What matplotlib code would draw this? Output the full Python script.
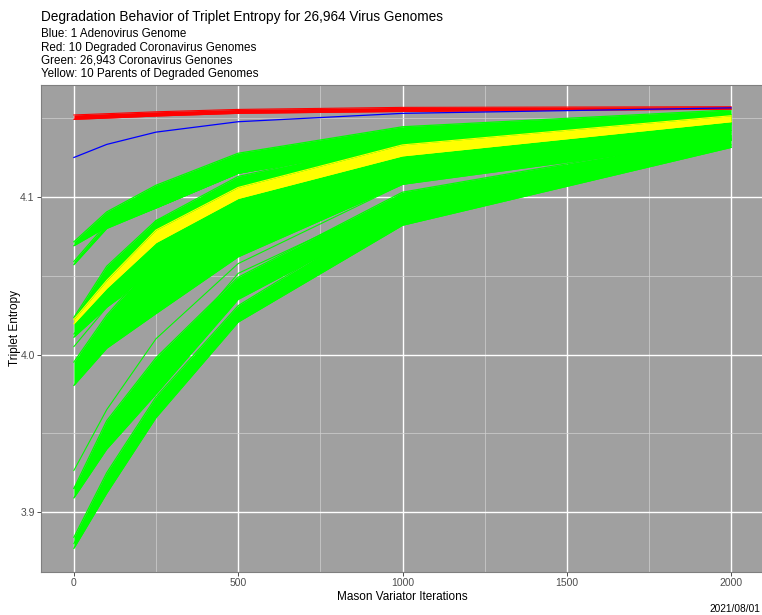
import numpy as np
import matplotlib
matplotlib.use("Agg")
import matplotlib.pyplot as plt
from matplotlib.ticker import MultipleLocator

# Mason Variator iteration counts (x positions of every series)
iters = [0, 100, 250, 500, 1000, 2000]

# blue: 1 adenovirus genome
blue = [4.1250, 4.1333, 4.1411, 4.1477, 4.1530, 4.1565]

# red: 10 degraded coronavirus genomes (band edges)
red_hi = [4.1520, 4.1528, 4.1540, 4.1555, 4.1568, 4.1572]
red_lo = [4.1492, 4.1500, 4.1513, 4.1530, 4.1542, 4.1557]

# yellow: 10 parents of the degraded genomes (band edges)
yellow_hi = [4.0222, 4.0470, 4.0790, 4.1060, 4.1330, 4.1515]
yellow_lo = [4.0195, 4.0420, 4.0710, 4.0990, 4.1260, 4.1477]

# green: 26,943 coronavirus genomes, drawn as bundles (upper / lower edges)
green_bundles = [
    ([4.0715, 4.0905, 4.1074, 4.1277, 4.1445, 4.1552],
     [4.0690, 4.0810, 4.0930, 4.1150, 4.1330, 4.1470]),
    ([4.0590, 4.0830, 4.0950, 4.1160, 4.1335, 4.1475],
     [4.0570, 4.0800, 4.0930, 4.1150, 4.1330, 4.1470]),
    ([4.0235, 4.0560, 4.0850, 4.1130, 4.1360, 4.1520],
     [4.0110, 4.0300, 4.0550, 4.0850, 4.1150, 4.1420]),
    ([3.9952, 4.0250, 4.0600, 4.0950, 4.1250, 4.1460],
     [3.9804, 4.0040, 4.0260, 4.0620, 4.1080, 4.1360]),
    ([3.9150, 3.9580, 3.9980, 4.0490, 4.1030, 4.1390],
     [3.9090, 3.9400, 3.9750, 4.0350, 4.0900, 4.1360]),
    ([3.8840, 3.9250, 3.9730, 4.0310, 4.0950, 4.1370],
     [3.8770, 3.9120, 3.9600, 4.0206, 4.0820, 4.1314]),
]

# a few stray green lines
green_lines = [
    [3.9264, 3.9650, 4.0100, 4.0577, 4.1080, 4.1410],
    [4.0130, 4.0380, 4.0850, 4.1050, 4.1300, 4.1480],
    [3.9150, 3.9450, 3.9900, 4.0515, 4.1000, 4.1380],
    [3.8800, 3.9200, 3.9650, 4.0250, 4.0850, 4.1330],
    [4.0050, 4.0300, 4.0520, 4.0880, 4.1120, 4.1400],
]

x_ticks = [0, 500, 1000, 1500, 2000]
y_ticks = [3.9, 4.0, 4.1]

title = "Degradation Behavior of Triplet Entropy for 26,964 Virus Genomes"
subtitle = ["Blue: 1 Adenovirus Genome",
            "Red: 10 Degraded Coronavirus Genomes",
            "Green: 26,943 Coronavirus Genones",
            "Yellow: 10 Parents of Degraded Genomes"]

plt.rcParams['font.family'] = ['Liberation Sans', 'DejaVu Sans']

W, H = 762, 615
fig = plt.figure(figsize=(W / 100, H / 100), dpi=100)
ax = fig.add_axes([41 / W, (H - 572) / H, (764 - 41) / W, (572 - 85) / H])
ax.set_facecolor("#A0A0A0")

green = "#00FF00"
for hi, lo in green_bundles:
    ax.fill_between(iters, lo, hi, color=green, lw=0, zorder=2)
    ax.plot(iters, hi, color=green, lw=0.9, zorder=2)
    ax.plot(iters, lo, color=green, lw=0.9, zorder=2)
for ln in green_lines:
    ax.plot(iters, ln, color=green, lw=0.8, zorder=2)

ax.fill_between(iters, yellow_lo, yellow_hi, color="#FFFF00", lw=0, zorder=3)
ax.plot(iters, yellow_hi, color="#FFFF00", lw=0.8, zorder=3)
ax.plot(iters, yellow_lo, color="#FFFF00", lw=0.8, zorder=3)

ax.fill_between(iters, red_lo, red_hi, color="#FF0000", lw=0, zorder=4)
ax.plot(iters, red_hi, color="#FF0000", lw=0.8, zorder=4)
ax.plot(iters, red_lo, color="#FF0000", lw=0.8, zorder=4)

ax.plot(iters, blue, color="#0000FF", lw=0.9, zorder=5)

ax.set_xlim(-100, 2100)
ax.set_ylim(3.862, 4.171)
ax.set_xticks(x_ticks)
ax.set_yticks(y_ticks)
ax.xaxis.set_minor_locator(MultipleLocator(250))
ax.yaxis.set_minor_locator(MultipleLocator(0.05))
ax.set_xticklabels([str(v) for v in x_ticks])
ax.set_yticklabels([f"{v:.1f}" for v in y_ticks])
ax.grid(which="major", color="white", lw=1.0, zorder=1)
ax.grid(which="minor", color="#D0D0D0", lw=0.5, zorder=1)
ax.set_axisbelow(True)
ax.tick_params(which="major", length=3, width=0.6, color="#333333",
               labelsize=7.5, labelcolor="#4D4D4D", pad=1.5)
ax.tick_params(which="minor", length=0)
for s in ax.spines.values():
    s.set_color("#7F7F7F")
    s.set_linewidth(0.8)

ax.set_xlabel("Mason Variator Iterations", fontsize=8.5)
ax.set_ylabel("Triplet Entropy", fontsize=8.5)
ax.xaxis.set_label_coords((402 - 41) / 723, (572 - 597) / 487)
ax.yaxis.set_label_coords((15 - 41) / 723, (572 - 328) / 487)
ax.xaxis.label.set_va("center")
ax.yaxis.label.set_va("center")

fig.text(41 / W, 1 - 17 / H, title, fontsize=9.8, va="center", ha="left")
for i, s in enumerate(subtitle):
    fig.text(41 / W, 1 - (34.3 + 13.2 * i) / H, s, fontsize=8.4, va="center", ha="left")
fig.text(760 / W, 1 - 609 / H, "2021/08/01", fontsize=7.3, va="center", ha="right")

fig.savefig("out.png", dpi=100)
